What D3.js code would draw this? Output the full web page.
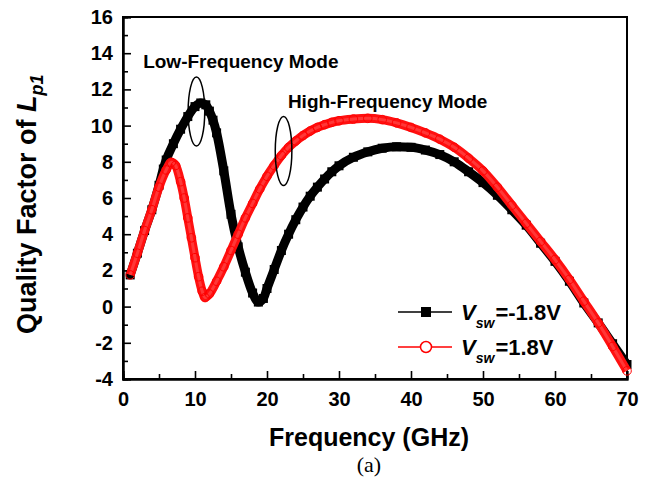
<!DOCTYPE html>
<html>
<head>
<meta charset="utf-8">
<script src="https://cdn.jsdelivr.net/npm/d3@7"></script>
<style>
  html, body { margin: 0; padding: 0; background: #fff; }
  svg { display: block; }
  text { font-family: "Liberation Sans", Arial, Helvetica, sans-serif; font-weight: bold; fill: #000; }
</style>
</head>
<body>
<svg id="chart" width="657" height="489"></svg>
<script>
// Quality factor of Lp1 versus frequency, for the two switch bias states.
const freqNeg = [1, 2, 3, 4, 5, 5.6, 6, 7, 8, 9, 10, 10.8, 11.5, 12, 12.5, 13, 14, 15, 16, 17, 18, 18.8, 19.5, 20, 21, 22, 23, 24, 25, 26, 27, 28, 29, 30, 32, 34, 36, 38, 40, 42, 44, 46, 48, 50, 52, 54, 56, 58, 60, 62, 64, 66, 68, 70];
const qNeg    = [1.75, 2.95, 4.2, 5.35, 6.7, 7.6, 8.1, 9.0, 9.8, 10.5, 11.05, 11.25, 11.15, 10.8, 10.3, 9.6, 7.5, 5.1, 3.3, 1.9, 0.75, 0.25, 0.45, 1.0, 2.05, 3.1, 4.0, 4.8, 5.5, 6.1, 6.6, 7.05, 7.45, 7.78, 8.25, 8.55, 8.75, 8.83, 8.8, 8.65, 8.4, 8.0, 7.45, 6.85, 6.15, 5.35, 4.5, 3.5, 2.5, 1.4, 0.2, -0.9, -2.05, -3.2];

const freqPos = [1, 2, 3, 4, 5, 6, 6.7, 7.3, 8, 8.5, 9, 9.5, 10, 10.5, 11, 11.4, 12, 13, 14, 15, 16, 17, 18, 19, 20, 21, 22, 23, 24, 25, 26, 27, 28, 29, 30, 32, 34, 36, 38, 40, 42, 44, 46, 48, 50, 52, 54, 56, 58, 60, 62, 64, 66, 68, 70];
const qPos    = [1.75, 2.95, 4.2, 5.35, 6.6, 7.55, 7.97, 7.8, 6.9, 6.0, 4.9, 3.8, 2.7, 1.65, 0.85, 0.5, 0.7, 1.4, 2.2, 3.1, 4.0, 4.9, 5.7, 6.5, 7.2, 7.8, 8.35, 8.8, 9.15, 9.45, 9.7, 9.9, 10.05, 10.18, 10.27, 10.36, 10.4, 10.33, 10.15, 9.9, 9.6, 9.25, 8.8, 8.2, 7.5, 6.6, 5.6, 4.6, 3.6, 2.6, 1.5, 0.3, -0.9, -2.2, -3.55];

const xTicks = [0, 10, 20, 30, 40, 50, 60, 70];
const xMinorTicks = [5, 15, 25, 35, 45, 55, 65];
const yTicks = [-4, -2, 0, 2, 4, 6, 8, 10, 12, 14, 16];
const yMinorTicks = [-3, -1, 1, 3, 5, 7, 9, 11, 13, 15];

const seriesLabels = ["=-1.8V", "=1.8V"];

// Mode annotations: ellipse centres in data units, label anchors in data units
const modeNotes = [
  { text: "Low-Frequency Mode",  f: 10.2, q: 10.78, tf: 2.8,  tq: 13.2 },
  { text: "High-Frequency Mode", f: 22.3, q: 8.6,   tf: 22.9, tq: 10.95 }
];

const svg = d3.select("#chart");
const plot = { left: 123, right: 627, top: 17, bottom: 379 };

const x = d3.scaleLinear().domain([0, 70]).range([plot.left, plot.right]);
const y = d3.scaleLinear().domain([-4, 16]).range([plot.bottom, plot.top]);

// Plain hyphen-minus for negative tick labels
const tickFmt = d => String(d);

// Frame
svg.append("rect")
  .attr("x", plot.left).attr("y", plot.top)
  .attr("width", plot.right - plot.left).attr("height", plot.bottom - plot.top)
  .attr("fill", "none").attr("stroke", "#000").attr("stroke-width", 2);

// Axes with inward ticks
const xAxis = svg.append("g").attr("transform", `translate(0,${plot.bottom})`)
  .call(d3.axisBottom(x).tickValues(xTicks).tickSize(-8).tickPadding(13).tickFormat(tickFmt));
xAxis.append("g").call(d3.axisBottom(x).tickValues(xMinorTicks).tickSize(-5).tickFormat(""));
const yAxis = svg.append("g").attr("transform", `translate(${plot.left},0)`)
  .call(d3.axisLeft(y).tickValues(yTicks).tickSize(-8).tickPadding(10).tickFormat(tickFmt));
yAxis.append("g").call(d3.axisLeft(y).tickValues(yMinorTicks).tickSize(-5).tickFormat(""));

svg.selectAll(".domain").attr("stroke", "#000").attr("stroke-width", 2);
svg.selectAll(".tick line").attr("stroke", "#000").attr("stroke-width", 1.6);
svg.selectAll(".tick text")
  .style("font-family", '"Liberation Sans", Arial, sans-serif')
  .style("font-weight", "bold").style("font-size", "20px").attr("fill", "#000");

// Curves
const line = d3.line().x(d => x(d[0])).y(d => y(d[1])).curve(d3.curveMonotoneX);
const negData = freqNeg.map((f, i) => [f, qNeg[i]]);
const posData = freqPos.map((f, i) => [f, qPos[i]]);

const plotArea = svg.append("g");
plotArea.append("path").datum(negData).attr("d", line)
  .attr("fill", "none").attr("stroke", "#000").attr("stroke-width", 9)
  .attr("stroke-linejoin", "round");
plotArea.selectAll(".sq").data(negData).join("rect")
  .attr("x", d => x(d[0]) - 4.5).attr("y", d => y(d[1]) - 4.5)
  .attr("width", 9).attr("height", 9).attr("fill", "#000");

plotArea.append("path").datum(posData).attr("d", line)
  .attr("fill", "none").attr("stroke", "#ff1010").attr("stroke-width", 9)
  .attr("stroke-linejoin", "round");
plotArea.append("path").datum(posData).attr("d", line)
  .attr("fill", "none").attr("stroke", "#ff8080").attr("stroke-width", 3)
  .attr("stroke-opacity", 0.35);
plotArea.selectAll(".ci").data(posData).join("circle")
  .attr("cx", d => x(d[0])).attr("cy", d => y(d[1])).attr("r", 4.3)
  .attr("fill", "none").attr("stroke", "#ff0000").attr("stroke-width", 1);

// Mode annotations
modeNotes.forEach(n => {
  svg.append("ellipse")
    .attr("cx", x(n.f)).attr("cy", y(n.q)).attr("rx", 8.3).attr("ry", 34.5)
    .attr("fill", "none").attr("stroke", "#000").attr("stroke-width", 1.5);
  svg.append("text").attr("x", x(n.tf)).attr("y", y(n.tq))
    .style("font-size", "19px").text(n.text);
});

// Legend
const legend = svg.append("g");
const rows = [
  { label: seriesLabels[0], yy: 312, color: "#000", mark: "square" },
  { label: seriesLabels[1], yy: 347, color: "#ff0000", mark: "circle" }
];
rows.forEach(r => {
  legend.append("line").attr("x1", 398).attr("x2", 452).attr("y1", r.yy).attr("y2", r.yy)
    .attr("stroke", r.color).attr("stroke-width", 1.5);
  if (r.mark === "square") {
    legend.append("rect").attr("x", 421).attr("y", r.yy - 5).attr("width", 10).attr("height", 10).attr("fill", "#000");
  } else {
    legend.append("circle").attr("cx", 426).attr("cy", r.yy).attr("r", 5.5)
      .attr("fill", "#fff").attr("stroke", "#ff0000").attr("stroke-width", 1.5);
  }
  const t = legend.append("text").attr("x", 461).attr("y", r.yy + 7.5).style("font-size", "22px");
  t.append("tspan").style("font-style", "italic").text("V");
  t.append("tspan").style("font-style", "italic").style("font-size", "14px").attr("dy", 8).text("sw");
  t.append("tspan").attr("dy", -8).attr("dx", 1).text(r.label);
});

// Axis titles
svg.append("text").attr("x", (plot.left + plot.right) / 2 - 6).attr("y", 446)
  .attr("text-anchor", "middle").style("font-size", "25px").text("Frequency (GHz)");

const yt = svg.append("text").attr("transform", "translate(36,334) rotate(-90)")
  .attr("text-anchor", "start").style("font-size", "27px");
yt.append("tspan").text("Quality Factor of ");
yt.append("tspan").style("font-style", "italic").text("L");
yt.append("tspan").style("font-style", "italic").style("font-size", "18px").attr("dy", 7).text("p1");

svg.append("text").attr("x", 369).attr("y", 472).attr("text-anchor", "middle")
  .style("font-family", '"Liberation Serif", "Times New Roman", serif')
  .style("font-weight", "normal").style("font-size", "22px").text("(a)");
</script>
</body>
</html>
